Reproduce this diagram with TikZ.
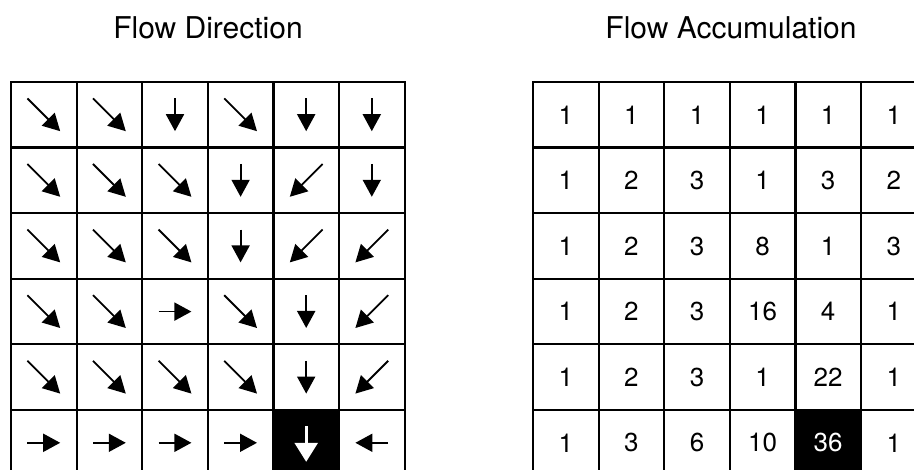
\documentclass[tikz,border=0pt]{standalone}
\usepackage{fontspec}
\setmainfont{TeX Gyre Heros}
\usetikzlibrary{arrows.meta,calc}
\begin{document}
\begin{tikzpicture}[x=1pt,y=-1pt,
  cellbox/.style={draw=black,line width=2.2pt,minimum size=65.6pt,inner sep=0pt,outer sep=0pt,fill=white},
  darkcell/.style={cellbox,fill=black,text=white},
  flowarrow/.style={line width=1.8pt,-{Triangle[length=17pt,width=18pt]}},
  bigarrow/.style={draw=white,fill=white,line width=2.6pt,-{Triangle[length=19pt,width=23pt]}},
  numtext/.style={font=\fontsize{26}{30}\selectfont},
  titletext/.style={font=\fontsize{30}{36}\selectfont,anchor=base}]
\useasboundingbox (0,0) rectangle (914,470);
\clip (0,0) rectangle (914,470);
\fill[white] (0,0) rectangle (914,470);

% titles
\node[titletext] (title-left) at (208,38.3) {Flow Direction};
\node[titletext] (title-right) at (731,38.3) {Flow Accumulation};

% left grid cells
\foreach \r in {1,...,6}
  \foreach \c in {1,...,6}
    \node[cellbox] (L-\r-\c) at ({11+(\c-0.5)*65.6},{82+(\r-0.5)*65.6}) {};
\node[darkcell] (L-6-5) at ({11+4.5*65.6},{82+5.5*65.6}) {};

% flow direction arrows
\foreach \r/\c/\dx/\dy in {
  1/1/1/1, 1/2/1/1, 1/3/0/1, 1/4/1/1, 1/5/0/1, 1/6/0/1,
  2/1/1/1, 2/2/1/1, 2/3/1/1, 2/4/0/1, 2/5/-1/1, 2/6/0/1,
  3/1/1/1, 3/2/1/1, 3/3/1/1, 3/4/0/1, 3/5/-1/1, 3/6/-1/1,
  4/1/1/1, 4/2/1/1, 4/3/1/0, 4/4/1/1, 4/5/0/1, 4/6/-1/1,
  5/1/1/1, 5/2/1/1, 5/3/1/1, 5/4/1/1, 5/5/0/1, 5/6/-1/1,
  6/1/1/0, 6/2/1/0, 6/3/1/0, 6/4/1/0, 6/6/-1/0}
  \draw[flowarrow] ($(L-\r-\c.center)+({-16.4*(\dx)},{-16.4*(\dy)})$) -- ($(L-\r-\c.center)+({16.4*(\dx)},{16.4*(\dy)})$);
\draw[bigarrow] ($(L-6-5.center)+(0,-16.5)$) -- ($(L-6-5.center)+(0,19)$);

% right grid cells with accumulation values
\foreach [count=\r] \rowvals in {{1,1,1,1,1,1},{1,2,3,1,3,2},{1,2,3,8,1,3},{1,2,3,16,4,1},{1,2,3,1,22,1},{1,3,6,10,36,1}}
  \foreach [count=\c] \v in \rowvals
    \node[cellbox,numtext] (R-\r-\c) at ({533+(\c-0.5)*65.6},{82+(\r-0.5)*65.6}) {\v};
\node[darkcell,numtext] (R-6-5) at ({533+4.5*65.6},{82+5.5*65.6}) {36};
\end{tikzpicture}
\end{document}
